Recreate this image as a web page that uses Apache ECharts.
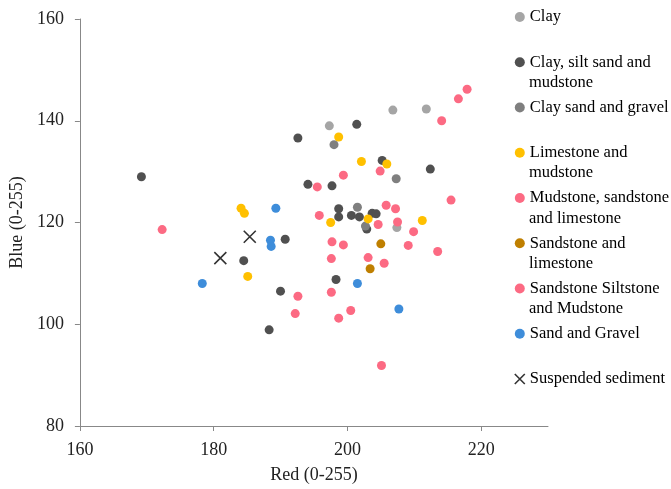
<!DOCTYPE html>
<html>
<head>
<meta charset="utf-8">
<script src="https://cdn.jsdelivr.net/npm/echarts@6/dist/echarts.min.js"></script>
<style>
html,body{margin:0;padding:0;background:#fff;}
#chart{width:671px;height:489px;}
</style>
</head>
<body>
<div id="chart"></div>
<script>
// ---- data (Red, Blue) ----
const clay = [[197.3,139.0],[206.8,142.1],[211.8,142.3],[207.4,119.0]];
const claySiltSandMudstone = [[169.2,129.0],[194.1,127.5],[190.7,116.7],[184.5,112.5],[190.0,106.5],[188.3,98.9],
  [192.6,136.6],[201.4,139.3],[205.2,132.2],[212.4,130.5],[197.7,127.2],[198.7,122.7],[198.7,121.1],
  [200.6,121.4],[201.8,121.1],[203.7,121.8],[204.3,121.7],[202.9,118.7],[198.3,108.8]];
const claySandGravel = [[198.0,135.3],[207.3,128.6],[202.7,119.3],[201.5,123.0]];
const limestoneMudstone = [[184.1,122.8],[184.6,121.8],[185.1,109.4],[198.7,136.8],[202.1,132.0],[205.9,131.5],
  [197.5,120.0],[203.1,120.7],[211.2,120.4]];
const mudstoneSandstoneLimestone = [[172.3,118.6],[199.4,129.3],[204.9,130.1],[195.5,127.0],[215.5,124.4],
  [195.8,121.4],[205.8,123.4],[207.2,122.7],[207.5,120.1],[204.6,119.6],[217.9,146.2],[216.6,144.3],[214.1,140.0]];
const sandstoneLimestone = [[205.0,115.8],[203.4,110.9]];
const sandstoneSiltstoneMudstone = [[192.6,105.5],[192.2,102.1],[209.9,118.2],[197.7,116.2],[199.4,115.6],
  [209.1,115.5],[213.5,114.3],[197.6,112.9],[203.1,113.1],[205.5,112.0],[197.6,106.3],[200.5,102.7],
  [198.7,101.2],[205.1,91.9]];
const sandGravel = [[189.3,122.8],[188.5,116.5],[188.6,115.3],[178.3,108.0],[201.5,108.0],[207.7,103.0]];
const suspendedSediment = [[185.4,117.2],[181.0,113.0]];

const seriesNames = ['Clay','Clay, silt sand and mudstone','Clay sand and gravel','Limestone and mudstone',
  'Mudstone, sandstone and limestone','Sandstone and limestone','Sandstone Siltstone and Mudstone',
  'Sand and Gravel','Suspended sediment'];
const legendLines = [['Clay'],['Clay, silt sand and','mudstone'],['Clay sand and gravel'],['Limestone and','mudstone'],
  ['Mudstone, sandstone','and limestone'],['Sandstone and','limestone'],['Sandstone Siltstone','and Mudstone'],
  ['Sand and Gravel'],['Suspended sediment']];
const seriesData = [clay, claySiltSandMudstone, claySandGravel, limestoneMudstone, mudstoneSandstoneLimestone,
  sandstoneLimestone, sandstoneSiltstoneMudstone, sandGravel, suspendedSediment];
const colors = ['#A5A5A5','#505050','#7F7F7F','#FFC000','#FC6A83','#BF7F00','#FC6A83','#3E8DDA','#000000'];

const xTicks = {min:160, max:230, interval:20};
const yTicks = {min:80, max:160, interval:20};

// ---- chart ----
const FONT = '"Liberation Serif", "Times New Roman", serif';
const LEGEND_FONT_SIZE = 16.5;
const crossPath = 'path://M0,0L10,10M10,0L0,10';
const series = seriesNames.map((name, i) => {
  const isCross = i === 8;
  return {
    name,
    type: 'scatter',
    data: seriesData[i],
    symbol: isCross ? crossPath : 'circle',
    symbolSize: isCross ? 12 : 9,
    itemStyle: isCross
      ? {color: 'rgba(0,0,0,0)', borderColor: '#000', borderWidth: 1.6}
      : {color: colors[i], opacity: 1},
    emphasis: {disabled: true}
  };
});

const legendTop = 7;
const legendStep = 45.25;
const graphics = [];
legendLines.forEach((lines, i) => {
  if (lines.length > 1) {
    const firstCenter = legendTop + i * legendStep + 10;
    graphics.push({
      type: 'text',
      left: 529,
      top: firstCenter + 20 - LEGEND_FONT_SIZE / 2,
      style: {text: lines[1], font: LEGEND_FONT_SIZE + 'px ' + FONT, fill: '#000'}
    });
  }
});

const chart = echarts.init(document.getElementById('chart'), null, {renderer: 'canvas'});
chart.setOption({
  backgroundColor: '#fff',
  animation: false,
  grid: {left: 77, right: 123, top: 19, bottom: 57, containLabel: false},
  xAxis: {
    type: 'value', min: xTicks.min, max: xTicks.max, interval: xTicks.interval,
    name: 'Red (0-255)', nameLocation: 'middle', nameGap: 40,
    nameTextStyle: {fontFamily: FONT, fontSize: 18, color: '#222'},
    axisLine: {show: true, lineStyle: {color: '#888', width: 1}},
    axisTick: {show: true, length: 5, lineStyle: {color: '#888'}},
    axisLabel: {fontFamily: FONT, fontSize: 18, color: '#222', margin: 15, showMaxLabel: false},
    splitLine: {show: false}
  },
  yAxis: {
    type: 'value', min: yTicks.min, max: yTicks.max, interval: yTicks.interval,
    name: 'Blue (0-255)', nameLocation: 'middle', nameGap: 50,
    nameTextStyle: {fontFamily: FONT, fontSize: 18, color: '#222'},
    axisLine: {show: true, lineStyle: {color: '#888', width: 1}},
    axisTick: {show: true, length: 5, lineStyle: {color: '#888'}},
    axisLabel: {fontFamily: FONT, fontSize: 18, color: '#222', margin: 16},
    splitLine: {show: false}
  },
  legend: {
    orient: 'vertical',
    left: 514,
    top: legendTop,
    padding: 0,
    itemWidth: 10,
    itemHeight: 10,
    itemGap: legendStep - 20,
    selectedMode: false,
    data: seriesNames.map((n, i) => ({name: n, icon: i === 8 ? crossPath : 'circle',
      itemStyle: i === 8 ? {color: 'rgba(0,0,0,0)', borderColor: '#000', borderWidth: 1.6} : {color: colors[i]}})),
    formatter: name => legendLines[seriesNames.indexOf(name)][0],
    textStyle: {fontFamily: FONT, fontSize: LEGEND_FONT_SIZE, color: '#000', lineHeight: 20}
  },
  graphic: graphics,
  series
});
</script>
</body>
</html>
